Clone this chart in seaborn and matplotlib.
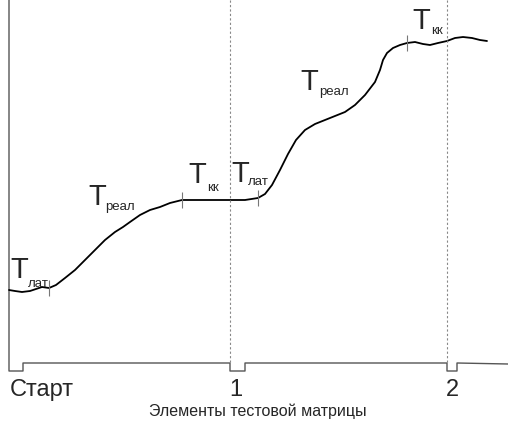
import numpy as np
import pandas as pd
import seaborn as sns
import matplotlib.pyplot as plt

# curve of the signal (x = time position, y = level, screen-down)
curve_x = [9, 15, 22, 30, 36, 42, 49, 56, 65, 75, 85, 95, 105, 115, 123, 130, 140, 150, 160, 170,
           182, 195, 210, 230, 245, 258, 265, 272, 280, 288, 296, 305, 315, 325, 335, 345, 355, 365,
           375, 380, 383, 387, 393, 400, 407, 415, 423, 430, 438, 447, 455, 463, 472, 480, 487]
curve_y = [290, 291, 292, 291, 289, 287, 288, 285, 278, 270, 260, 250, 240, 232, 227, 222, 215, 210, 207, 203,
           200, 200, 200, 200, 200, 198, 194, 185, 170, 154, 140, 130, 124, 120, 116, 112, 105, 95,
           82, 70, 60, 53, 48, 45, 43, 42, 44, 45, 43, 41, 38, 37, 38, 40, 41]

# sync trace along the bottom (element pulses)
sync_x = [9, 9, 23, 23, 230, 230, 245, 245, 447, 447, 457, 457, 508]
sync_y = [0, 371, 371, 363, 363, 371, 371, 363, 363, 371, 371, 363, 364]

element_x = [230, 447]
element_labels = ['Старт', '1', '2']
element_label_x = [10, 236, 452]

# phase marks on the curve
mark_x = [49, 182, 258, 407]
mark_y = [288, 200, 198, 43]

# phase labels: T position, subscript position, subscript text
label_tx = [10, 88, 188, 231, 300, 412]
label_ty = [278, 205, 183, 182, 90, 29]
label_sx = [28, 105, 207, 248, 319, 431]
label_sy = [287, 210, 191, 185, 95, 34]
label_sub = ['лат', 'реал', 'кк', 'лат', 'реал', 'кк']

sns.set_style('white')
plt.rcParams['font.family'] = ['Liberation Sans', 'DejaVu Sans']

fig = plt.figure(figsize=(5.08, 4.24), dpi=100)
ax = fig.add_axes([0, 0, 1, 1])

curve = pd.DataFrame({'x': curve_x, 'y': curve_y})
sync = pd.DataFrame({'x': sync_x, 'y': sync_y})

sns.lineplot(data=sync, x='x', y='y', sort=False, estimator=None, color='#555555', lw=1.0, ax=ax)
sns.lineplot(data=curve, x='x', y='y', sort=False, estimator=None, color='black', lw=1.3, ax=ax)

for ex in element_x:
    ax.vlines(ex, 0, 363, colors='#888888', linestyles=(0, (2, 2)), lw=0.8)

for mx, my in zip(mark_x, mark_y):
    ax.vlines(mx, my - 8, my + 8, colors='#777777', lw=0.8)

for tx, ty, sx, sy, s in zip(label_tx, label_ty, label_sx, label_sy, label_sub):
    ax.text(tx, ty, 'T', fontsize=21, ha='left', va='baseline')
    ax.text(sx, sy, s, fontsize=9.5, ha='left', va='baseline')

for lx, lab in zip(element_label_x, element_labels):
    ax.text(lx, 396, lab, fontsize=17, ha='left' if lab == 'Старт' else 'center', va='baseline')

ax.text(258, 416, 'Элементы тестовой матрицы', fontsize=11.5, ha='center', va='baseline')

ax.set_xlim(0, 508)
ax.set_ylim(424, 0)
ax.axis('off')

fig.savefig('out.png', dpi=100)
